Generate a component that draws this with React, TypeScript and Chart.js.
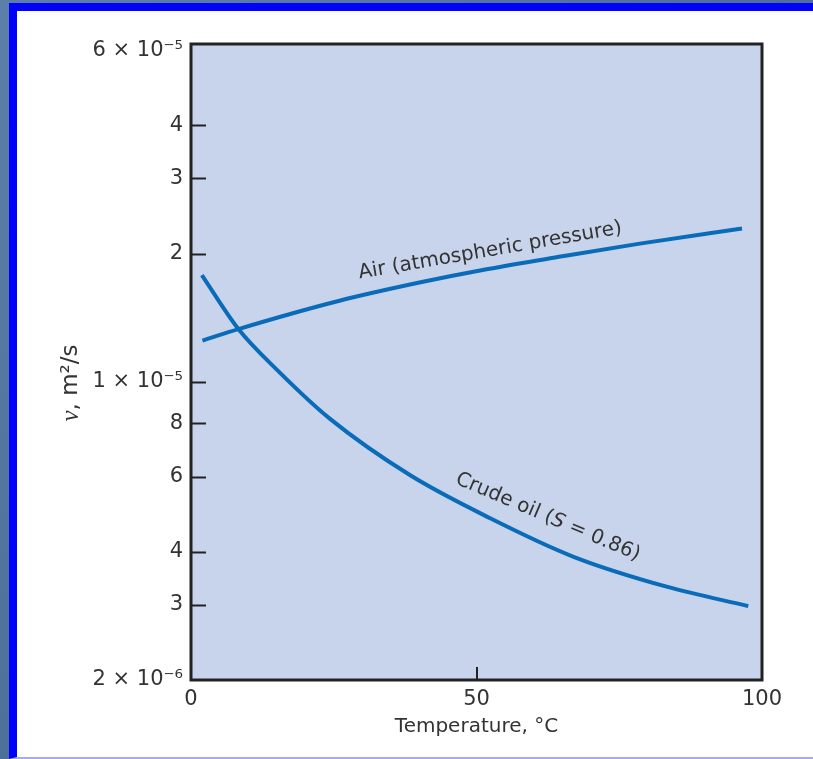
import React, { useEffect, useRef } from "react";
import { Chart, registerables } from "chart.js";

Chart.register(...registerables);

// ---- data ----
const airTemps = [2, 8.3, 26, 40, 52, 65, 78.6, 96.5];
const airNu = [1.25e-5, 1.33e-5, 1.55e-5, 1.71e-5, 1.84e-5, 1.97e-5, 2.11e-5, 2.29e-5];

const oilTemps = [1.9, 8.3, 15.6, 24.3, 38.4, 52.4, 67, 83.3, 97.6];
const oilNu = [1.78e-5, 1.33e-5, 1.05e-5, 8.2e-6, 6.04e-6, 4.79e-6, 3.89e-6, 3.31e-6, 2.98e-6];

const xTickValues = [0, 50, 100];
const xTickLabels = ["0", "50", "100"];

const yTickValues = [2e-6, 3e-6, 4e-6, 6e-6, 8e-6, 1e-5, 2e-5, 3e-5, 4e-5, 6e-5];
const yTickLabels = ["2 × 10⁻⁶", "3", "4", "6", "8", "1 × 10⁻⁵", "2", "3", "4", "6 × 10⁻⁵"];

const xTitle = "Temperature, °C";
const airLabel = "Air (atmospheric pressure)";
const oilLabelParts = ["Crude oil (", "S", " = 0.86)"];

const FONT = "'DejaVu Sans', 'Noto Sans', sans-serif";
const TEXT = "#333333";
const LINE = "#0a6cb9";

const decorPlugin = {
  id: "decor",
  beforeDraw(chart: any) {
    const { ctx, chartArea: a } = chart;
    ctx.save();
    ctx.fillStyle = "#c8d4ec";
    ctx.fillRect(a.left, a.top, a.right - a.left, a.bottom - a.top);
    ctx.restore();
  },
  afterDatasetsDraw(chart: any) {
    const { ctx, chartArea: a, scales } = chart;
    const xs = scales.x;
    const ys = scales.y;
    ctx.save();
    // frame
    ctx.strokeStyle = "#222222";
    ctx.lineWidth = 3;
    ctx.strokeRect(a.left, a.top, a.right - a.left, a.bottom - a.top);
    // inner tick marks
    ctx.lineWidth = 2;
    ys.ticks.forEach((t: any) => {
      const y = Math.round(ys.getPixelForValue(t.value)) + 0.5;
      if (y < a.top + 10 || y > a.bottom - 10) return;
      ctx.beginPath();
      ctx.moveTo(a.left, y);
      ctx.lineTo(a.left + 15, y);
      ctx.stroke();
    });
    xs.ticks.forEach((t: any) => {
      const x = Math.round(xs.getPixelForValue(t.value));
      if (x < a.left + 10 || x > a.right - 10) return;
      ctx.beginPath();
      ctx.moveTo(x, a.bottom);
      ctx.lineTo(x, a.bottom - 13);
      ctx.stroke();
    });

    // curve labels
    ctx.fillStyle = TEXT;
    ctx.textBaseline = "middle";
    // Air
    {
      const px = xs.getPixelForValue(52.4);
      const py = ys.getPixelForValue(2.03e-5);
      ctx.save();
      ctx.translate(px, py);
      ctx.rotate((-9.8 * Math.PI) / 180);
      ctx.font = `20px ${FONT}`;
      ctx.textAlign = "center";
      ctx.fillText(airLabel, 0, 0);
      ctx.restore();
    }
    // Crude oil
    {
      const px = xs.getPixelForValue(62.5);
      const py = ys.getPixelForValue(4.82e-6);
      ctx.save();
      ctx.translate(px, py);
      ctx.rotate((23 * Math.PI) / 180);
      const fonts = [`20px ${FONT}`, `italic 20px ${FONT}`, `20px ${FONT}`];
      const widths = oilLabelParts.map((s, i) => {
        ctx.font = fonts[i];
        return ctx.measureText(s).width;
      });
      const total = widths.reduce((p, c) => p + c, 0);
      let x = -total / 2;
      ctx.textAlign = "left";
      oilLabelParts.forEach((s, i) => {
        ctx.font = fonts[i];
        ctx.fillText(s, x, 0);
        x += widths[i];
      });
      ctx.restore();
    }

    // y axis title: "ν, m²/s"
    {
      ctx.save();
      ctx.translate(71, (a.top + a.bottom) / 2 + 21);
      ctx.rotate(-Math.PI / 2);
      const parts = ["ν", ", m²/s"];
      const fonts = [`italic 25px 'Liberation Serif', serif`, `23px ${FONT}`];
      const widths = parts.map((s, i) => {
        ctx.font = fonts[i];
        return ctx.measureText(s).width;
      });
      const total = widths.reduce((p, c) => p + c, 0);
      let x = -total / 2;
      ctx.textAlign = "left";
      ctx.textBaseline = "middle";
      parts.forEach((s, i) => {
        ctx.font = fonts[i];
        ctx.fillText(s, x, 0);
        x += widths[i];
      });
      ctx.restore();
    }
    ctx.restore();
  },
};

export default function App() {
  const ref = useRef<HTMLCanvasElement | null>(null);

  useEffect(() => {
    if (!ref.current) return;
    const chart = new Chart(ref.current, {
      type: "line",
      data: {
        datasets: [
          {
            label: "Air",
            data: airTemps.map((t, i) => ({ x: t, y: airNu[i] })),
            borderColor: LINE,
            borderWidth: 4,
            pointRadius: 0,
            cubicInterpolationMode: "monotone",
            fill: false,
          },
          {
            label: "Crude oil",
            data: oilTemps.map((t, i) => ({ x: t, y: oilNu[i] })),
            borderColor: LINE,
            borderWidth: 4,
            pointRadius: 0,
            cubicInterpolationMode: "monotone",
            fill: false,
          },
        ],
      },
      options: {
        animation: false,
        responsive: false,
        devicePixelRatio: 1,
        layout: { padding: { left: 0, top: 44, right: 51, bottom: 0 } },
        plugins: {
          legend: { display: false },
          tooltip: { enabled: false },
        },
        scales: {
          x: {
            type: "linear",
            min: 0,
            max: 100,
            afterBuildTicks: (scale: any) => {
              scale.ticks = xTickValues.map((v) => ({ value: v }));
            },
            afterFit: (scale: any) => {
              scale.height = 79;
            },
            grid: { display: false, drawTicks: false },
            border: { display: false },
            ticks: {
              autoSkip: false,
              maxRotation: 0,
              padding: 7,
              color: TEXT,
              font: { family: FONT, size: 21 },
              callback: (_v: any, i: number) => xTickLabels[i],
            },
            title: {
              display: true,
              text: xTitle,
              color: TEXT,
              font: { family: FONT, size: 20 },
              padding: { top: 0, bottom: 20 },
            },
          },
          y: {
            type: "logarithmic",
            min: 2e-6,
            max: 6.2e-5,
            afterBuildTicks: (scale: any) => {
              scale.ticks = yTickValues.map((v) => ({ value: v }));
            },
            afterFit: (scale: any) => {
              scale.width = 191;
            },
            grid: { display: false, drawTicks: false },
            border: { display: false },
            ticks: {
              autoSkip: false,
              padding: 8,
              color: TEXT,
              font: { family: FONT, size: 21 },
              callback: (_v: any, i: number) => yTickLabels[i],
            },
          },
        },
      },
      plugins: [decorPlugin],
    } as any);
    return () => chart.destroy();
  }, []);

  return (
    <div
      style={{
        position: "fixed",
        left: 0,
        top: 0,
        width: 813,
        height: 759,
        background: "linear-gradient(135deg, #5b7fa8, #4d7098 50%, #5a7ea6)",
        overflow: "hidden",
      }}
    >
      <div
        style={{
          position: "absolute",
          left: 9,
          top: 3,
          width: 804,
          height: 756,
          boxSizing: "border-box",
          borderLeft: "8px solid #0000ff",
          borderTop: "8px solid #0000ff",
          borderBottom: "2px solid #a8a8f8",
          background: "#ffffff",
        }}
      />
      <canvas
        ref={ref}
        width={813}
        height={759}
        style={{ position: "absolute", left: 0, top: 0, width: 813, height: 759 }}
      />
    </div>
  );
}
